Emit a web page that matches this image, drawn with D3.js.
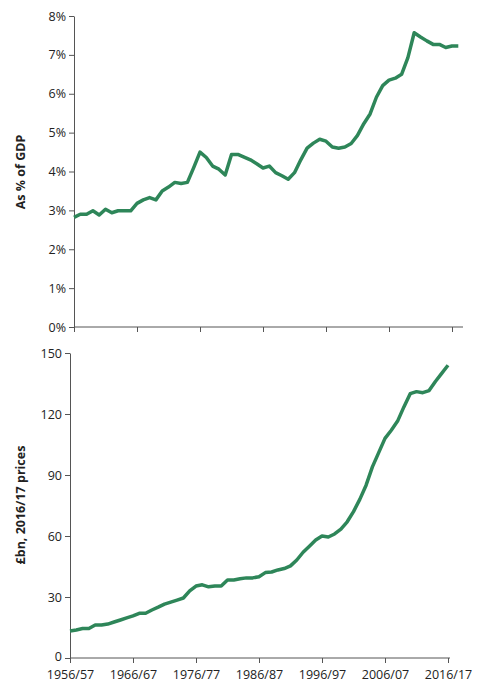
<!DOCTYPE html>
<html lang="en">
<head>
<meta charset="UTF-8">
<script src="https://d3js.org/d3.v7.min.js"></script>
<style>
  body { margin: 0; background: #fff; }
  text { font-family: "Open Sans", sans-serif; fill: #222; }
  .domain, .tick line { stroke: #555; }
</style>
</head>
<body>
<div id="canvas"></div>
<script>
const tickYears = [1956, 1966, 1976, 1986, 1996, 2006, 2016];
const pctGdp = [2.82,2.90,2.90,2.99,2.88,3.03,2.94,2.99,2.99,2.99,3.18,3.27,3.33,3.27,3.50,3.60,3.72,3.69,3.72,4.10,4.50,4.36,4.14,4.06,3.91,4.44,4.44,4.37,4.30,4.20,4.09,4.14,3.97,3.89,3.80,3.97,4.30,4.60,4.73,4.83,4.78,4.63,4.60,4.63,4.72,4.93,5.23,5.48,5.91,6.21,6.35,6.40,6.50,6.93,7.57,7.46,7.36,7.27,7.27,7.19,7.23,7.23];
const realBn = [13.3,13.8,14.5,14.5,16.2,16.2,16.7,17.7,18.7,19.7,20.7,22,22,23.6,25,26.5,27.5,28.5,29.5,33,35.4,36,35,35.4,35.4,38.4,38.4,39,39.4,39.4,40,42,42.3,43.3,44,45.3,48.2,52,55,58,60,59.5,61,63.4,67,72,78,85,94,101,108,112,116.5,123.5,130,131,130.5,131.5,136,140,144];
const pctTicks = [0,1,2,3,4,5,6,7,8];
const bnTicks = [0,30,60,90,120,150];

const svg = d3.select('#canvas').append('svg').attr('width', 481).attr('height', 683);
const green = '#2e8659';

function panel(values, opts) {
  const x = d3.scaleLinear().domain([1956, 2016]).range([opts.x0, opts.x0 + 378]);
  const y = d3.scaleLinear().domain(opts.domain).range([opts.y1, opts.y0]);
  const g = svg.append('g');
  g.append('g').attr('transform', 'translate(0,' + opts.y1 + ')')
    .call(d3.axisBottom(x).tickValues(tickYears).tickSize(5).tickSizeOuter(0)
      .tickFormat(opts.labels ? d => d + '/' + String(d + 1).slice(2) : ''))
    .call(a => a.select('.domain').attr('d', 'M' + opts.x0 + ',0H' + opts.xEnd))
    .selectAll('text').style('font-size', '12.5px').attr('dy', '1.05em');
  g.append('g').attr('transform', 'translate(' + opts.x0 + ',0)')
    .call(d3.axisLeft(y).tickValues(opts.ticks).tickSize(5).tickSizeOuter(0).tickFormat(opts.fmt))
    .selectAll('text').style('font-size', '12.5px').attr('dy', d => d === 0 && opts.labels ? '0.2em' : '0.32em');
  g.append('path').datum(values)
    .attr('fill', 'none').attr('stroke', green).attr('stroke-width', 3.5)
    .attr('stroke-linejoin', 'round')
    .attr('d', d3.line().x((d, i) => x(1956 + i)).y(d => y(d)));
  g.append('text').attr('transform', 'translate(25,' + opts.labelY + ') rotate(-90)')
    .attr('text-anchor', 'middle').style('font-size', '12.5px').style('font-weight', 'bold')
    .text(opts.title);
}

panel(pctGdp, { x0: 74, xEnd: 463, y0: 16, y1: 327, domain: [0, 8], ticks: pctTicks,
  fmt: d => d + '%', labels: false, title: 'As % of GDP', labelY: 172 });
panel(realBn, { x0: 70, xEnd: 450, y0: 353, y1: 658, domain: [0, 150], ticks: bnTicks,
  fmt: d => d, labels: true, title: '£bn, 2016/17 prices', labelY: 505 });
</script>
</body>
</html>
